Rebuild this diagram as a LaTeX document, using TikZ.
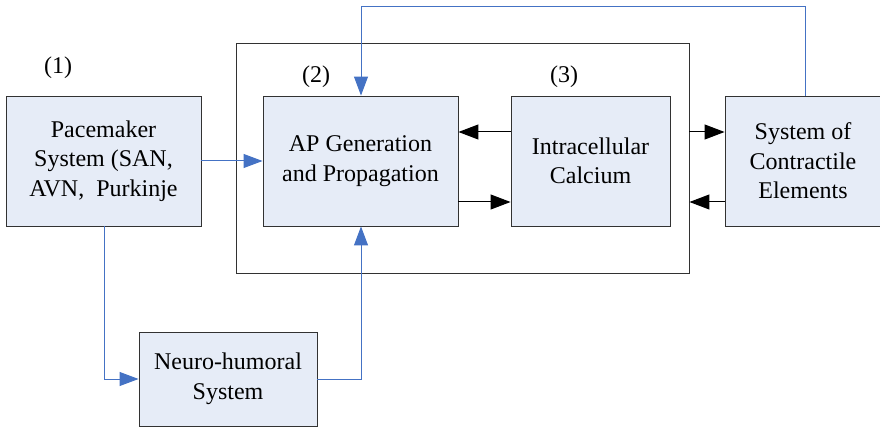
\documentclass[tikz,border=0pt]{standalone}
\usepackage{fontspec}
\newfontfamily\tnr{Liberation Serif}
\usetikzlibrary{arrows.meta,calc}
\definecolor{boxfill}{RGB}{230,236,247}
\definecolor{flowblue}{RGB}{68,114,196}
\definecolor{edgegray}{RGB}{50,50,50}
\tikzset{
  block/.style={draw=edgegray, line width=0.9pt, fill=boxfill, align=center,
    inner sep=0pt, font=\tnr\fontsize{24}{29.5}\selectfont},
  frame/.style={draw=edgegray, line width=0.9pt, inner sep=0pt},
  tag/.style={font=\tnr\fontsize{24}{26}\selectfont, inner sep=0pt},
  blueflow/.style={draw=flowblue, line width=1pt,
    -{Triangle[length=19pt,width=14pt]}},
  blueline/.style={draw=flowblue, line width=1pt},
  blackflow/.style={draw=edgegray, line width=1pt,
    -{Triangle[length=20pt,width=15pt]}, color=black}
}
\begin{document}
\begin{tikzpicture}[x=1pt,y=-1pt]
  \useasboundingbox (0,0) rectangle (880,427);

  % enclosing frame around the cellular blocks
  \node[frame, minimum width=453pt, minimum height=230pt] (frame) at (462.5,158) {};

  % blocks
  \node[block, minimum width=195pt, minimum height=130pt] (pace) at (103.5,161)
    {Pacemaker\\System (SAN,\\AVN,\ \ Purkinje};
  \node[block, minimum width=195pt, minimum height=130pt] (ap) at (360.5,161)
    {AP Generation\\and Propagation};
  \node[block, minimum width=159pt, minimum height=130pt] (ca) at (590.5,161)
    {Intracellular\\Calcium};
  \node[block, minimum width=156pt, minimum height=130pt] (ce) at (803,161)
    {System of\\Contractile\\Elements};
  \node[block, minimum width=178pt, minimum height=94pt] (nh) at (228,379)
    {Neuro-humoral\\System};

  % block numbers
  \node[tag] (t1) at (58,68) {(1)};
  \node[tag] (t2) at (316,77) {(2)};
  \node[tag] (t3) at (564,77) {(3)};

  % helper levels and corner points
  \coordinate (hi) at (0,132);
  \coordinate (lo) at (0,202);
  \coordinate (top) at (0,7);
  \coordinate (paceleg) at (104,226);
  \coordinate (apleg) at (361,0);
  \coordinate (celeg) at (805,0);

  % blue signalling paths
  \draw[blueflow] (pace.east) -- (ap.west);
  \draw[blueflow] (paceleg) |- (nh.west);
  \draw[blueflow] (nh.east) -| (apleg |- ap.south);
  \draw[blueflow] (celeg |- ce.north) |- (top -| apleg) -- (apleg |- ap.north);

  % black coupling arrows
  \draw[blackflow] (ca.west |- hi) -- (ap.east |- hi);
  \draw[blackflow] (ap.east |- lo) -- (ca.west |- lo);
  \draw[blackflow] (frame.east |- hi) -- (ce.west |- hi);
  \draw[blackflow] (ce.west |- lo) -- (frame.east |- lo);
\end{tikzpicture}
\end{document}
